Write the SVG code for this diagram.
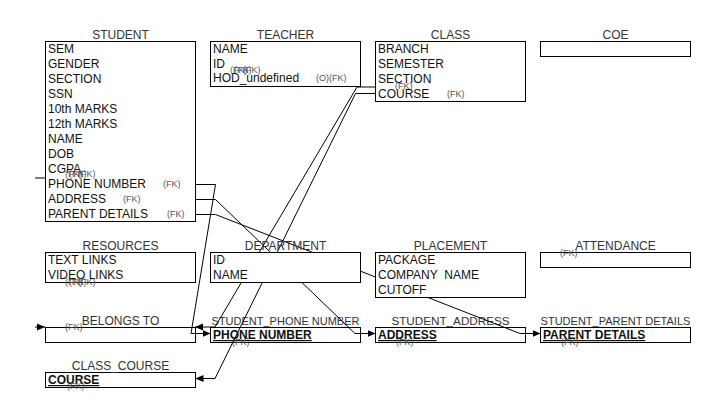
<svg xmlns="http://www.w3.org/2000/svg" width="716" height="413" viewBox="0 0 716 413">
<style>
text{font-family:"Liberation Sans",Arial,Helvetica,sans-serif}
.t{font-size:12px;fill:#333;text-anchor:middle}
.ts{font-size:11px}
.r{font-size:12px;fill:#111}
.k{font-size:12px;fill:#111;font-weight:bold;text-decoration:underline}
.f{font-size:9px;fill:#555}
.box{fill:#fff;stroke:#000;stroke-width:1}
.e{fill:none;stroke:#000;stroke-width:1}
</style>
<defs>
<marker id="arr" viewBox="0 0 8 8" refX="8" refY="4" markerWidth="8" markerHeight="8" orient="auto" markerUnits="userSpaceOnUse"><path d="M0,0.5 L8,4 L0,7.5 z" fill="#000"/></marker>
</defs>
<rect width="716" height="413" fill="#fff"/>

<g id="belongs_to">
<rect class="box" x="45.5" y="327.5" width="150" height="15"/>
<text class="t" x="120.5" y="325">BELONGS TO</text>
<text class="f" x="65" y="330">(FK)</text>
</g>
<g id="student_phone_number">
<rect class="box" x="210.5" y="327.5" width="150" height="15"/>
<text class="t ts" x="285.5" y="325">STUDENT_PHONE NUMBER</text>
<text class="k" x="213" y="339">PHONE NUMBER</text>
<text class="f" x="232" y="345">(FK)</text>
</g>
<g id="student_address">
<rect class="box" x="375.5" y="327.5" width="150" height="15"/>
<text class="t" x="450.5" y="325" style="font-size:11.7px">STUDENT_ADDRESS</text>
<text class="k" x="378" y="339">ADDRESS</text>
<text class="f" x="396" y="345">(FK)</text>
</g>
<g id="student_parent_details">
<rect class="box" x="540.5" y="327.5" width="150" height="15"/>
<text class="t ts" x="615.5" y="325">STUDENT_PARENT DETAILS</text>
<text class="k" x="543" y="339">PARENT DETAILS</text>
<text class="f" x="561" y="345">(FK)</text>
</g>
<g id="class_course">
<rect class="box" x="45.5" y="372.5" width="150" height="15"/>
<text class="t" x="120.5" y="370">CLASS_COURSE</text>
<text class="k" x="48" y="384">COURSE</text>
<text class="f" x="67" y="389">(FK)</text>
</g>

<g id="connectors">
<path class="e" d="M195.5,184.5 H215.5 L191,333.5 H210.5" marker-end="url(#arr)"/>
<path class="e" d="M195.5,199.5 H215.5 L355,333.5 H375.5" marker-end="url(#arr)"/>
<path class="e" d="M195.5,214.5 H215.5 L520,333.5 H540.5" marker-end="url(#arr)"/>
<path class="e" d="M375,87 H357 L215,327 H195" marker-end="url(#arr)"/>
<path class="e" d="M375.5,93.5 H355.5 L215,378.5 H195.5" marker-end="url(#arr)"/>
<path class="e" d="M35,178 H45"/>
<path class="e" d="M35,327 H45" marker-end="url(#arr)"/>
</g>

<g id="student">
<rect class="box" x="45.5" y="41.5" width="150" height="180"/>
<text class="t" x="120.5" y="39">STUDENT</text>
<text class="r" x="48" y="53">SEM</text>
<text class="r" x="48" y="68">GENDER</text>
<text class="r" x="48" y="83">SECTION</text>
<text class="r" x="48" y="98">SSN</text>
<text class="r" x="48" y="113">10th MARKS</text>
<text class="r" x="48" y="128">12th MARKS</text>
<text class="r" x="48" y="143">NAME</text>
<text class="r" x="48" y="158">DOB</text>
<text class="r" x="48" y="173">CGPA</text>
<text class="r" x="48" y="188">PHONE NUMBER</text>
<text class="r" x="48" y="203">ADDRESS</text>
<text class="r" x="48" y="218">PARENT DETAILS</text>
<text class="f" x="163" y="187">(FK)</text>
<text class="f" x="123" y="202">(FK)</text>
<text class="f" x="167" y="217">(FK)</text>
<text class="f" x="65" y="177">(FK)</text>
<text class="f" x="69" y="177">(FK)</text>
<text class="f" x="78" y="177">(FK)</text>
</g>

<g id="teacher">
<rect class="box" x="210.5" y="41.5" width="150" height="45"/>
<text class="t" x="285.5" y="39">TEACHER</text>
<text class="r" x="213" y="53">NAME</text>
<text class="r" x="213" y="68">ID</text>
<text class="r" x="213" y="82">HOD_undefined</text>
<text class="f" x="230" y="73">(FK)</text>
<text class="f" x="234" y="73">(FK)</text>
<text class="f" x="243" y="73">(FK)</text>
<text class="f" x="316" y="81">(O)(FK)</text>
</g>

<g id="class">
<rect class="box" x="375.5" y="41.5" width="150" height="60"/>
<text class="t" x="450.5" y="39">CLASS</text>
<text class="r" x="378" y="53">BRANCH</text>
<text class="r" x="378" y="68">SEMESTER</text>
<text class="r" x="378" y="83">SECTION</text>
<text class="r" x="378" y="98">COURSE</text>
<text class="f" x="395" y="89">(FK)</text>
<text class="f" x="447" y="97">(FK)</text>
</g>

<g id="coe">
<rect class="box" x="540.5" y="41.5" width="150" height="15"/>
<text class="t" x="615.5" y="39">COE</text>
</g>

<g id="resources">
<rect class="box" x="45.5" y="252.5" width="150" height="30"/>
<text class="t" x="120.5" y="250">RESOURCES</text>
<text class="r" x="48" y="264">TEXT LINKS</text>
<text class="r" x="48" y="279">VIDEO LINKS</text>
<text class="f" x="65" y="285">(FK)</text>
<text class="f" x="69" y="285">(FK)</text>
<text class="f" x="78" y="285">(FK)</text>
</g>

<g id="department">
<rect class="box" x="210.5" y="252.5" width="150" height="30"/>
<text class="t" x="285.5" y="250">DEPARTMENT</text>
<text class="r" x="213" y="264">ID</text>
<text class="r" x="213" y="279">NAME</text>
</g>

<g id="placement">
<rect class="box" x="375.5" y="252.5" width="150" height="45"/>
<text class="t" x="450.5" y="250">PLACEMENT</text>
<text class="r" x="378" y="264">PACKAGE</text>
<text class="r" x="378" y="279" style="white-space:pre">COMPANY  NAME</text>
<text class="r" x="378" y="294">CUTOFF</text>
</g>

<g id="attendance">
<rect class="box" x="540.5" y="252.5" width="150" height="15"/>
<text class="t" x="615.5" y="250">ATTENDANCE</text>
<text class="f" x="560" y="256">(FK)</text>
</g>
</svg>
